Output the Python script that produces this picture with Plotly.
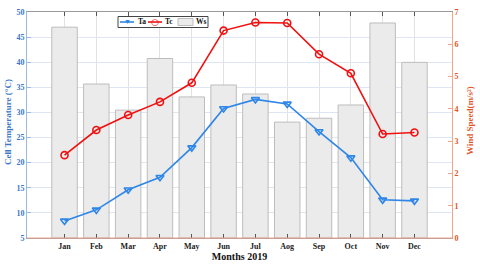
import plotly.graph_objects as go

months = ["Jan", "Feb", "Mar", "Apr", "May", "Jun", "Jul", "Aog", "Sep", "Oct", "Nov", "Dec"]
ta = [8.4, 10.6, 14.6, 17.1, 23.0, 30.8, 32.6, 31.7, 26.2, 21.0, 12.6, 12.4]
tc = [21.5, 26.5, 29.5, 32.1, 35.9, 46.3, 47.9, 47.8, 41.6, 37.8, 25.7, 26.0]
ws = [6.53, 4.77, 3.96, 5.56, 4.37, 4.74, 4.46, 3.59, 3.71, 4.12, 6.66, 5.44]

xpos = list(range(1, len(months) + 1))

FONT = "Liberation Serif"
BLUE = "#2E86E8"
RED = "#F01010"
LBLUE = "#3C78C8"
ORANGE = "#E0562A"

fig = go.Figure()

fig.add_trace(go.Bar(
    x=xpos, y=ws, name="Ws", yaxis="y", width=0.8, showlegend=False,
    marker=dict(color="#EBEBEB", line=dict(color="#BDBDBD", width=1)),
))
fig.add_trace(go.Scatter(
    x=xpos, y=ta, name="Ta", yaxis="y2", mode="lines+markers", showlegend=False,
    line=dict(color=BLUE, width=1.6),
    marker=dict(symbol="triangle-down-open", size=7, color=BLUE, line=dict(width=1.6, color=BLUE)),
))
fig.add_trace(go.Scatter(
    x=xpos, y=tc, name="Tc", yaxis="y2", mode="lines+markers", showlegend=False,
    line=dict(color=RED, width=1.6),
    marker=dict(symbol="circle-open", size=7, color=RED, line=dict(width=1.6, color=RED)),
))

# compact legend (box, samples, labels) in paper coordinates
def px_x(p):
    return (p - 27) / 425.0

def px_y(p):
    return (238 - p) / 226.0

shapes = [
    dict(type="line", xref="paper", yref="paper", x0=0, x1=1, y0=0, y1=0,
         line=dict(color="#F3A58A", width=1), layer="above"),
    dict(type="rect", xref="paper", yref="paper", x0=px_x(118), x1=px_x(208), y0=px_y(27.5), y1=px_y(16.5),
         line=dict(color="#444", width=1), fillcolor="white", layer="above"),
    dict(type="line", xref="paper", yref="paper", x0=px_x(120), x1=px_x(134), y0=px_y(22), y1=px_y(22),
         line=dict(color=BLUE, width=1.6), layer="above"),
    dict(type="line", xref="paper", yref="paper", x0=px_x(148), x1=px_x(162), y0=px_y(22), y1=px_y(22),
         line=dict(color=RED, width=1.6), layer="above"),
    dict(type="rect", xref="paper", yref="paper", x0=px_x(178), x1=px_x(193), y0=px_y(25.5), y1=px_y(18.5),
         line=dict(color="#BDBDBD", width=1), fillcolor="#EBEBEB", layer="above"),
]
annotations = [
    dict(xref="paper", yref="paper", x=px_x(127), y=px_y(22), text="▼", showarrow=False,
         font=dict(size=7, color=BLUE), xanchor="center", yanchor="middle"),
    dict(xref="paper", yref="paper", x=px_x(155), y=px_y(22), text="○", showarrow=False,
         font=dict(size=9, color=RED, family="DejaVu Sans"), xanchor="center", yanchor="middle"),
    dict(xref="paper", yref="paper", x=px_x(135.5), y=px_y(22), text="<b>Ta</b>", showarrow=False,
         font=dict(size=7.5, color="#111", family=FONT), xanchor="left", yanchor="middle"),
    dict(xref="paper", yref="paper", x=px_x(163), y=px_y(22), text="<b>Tc</b>", showarrow=False,
         font=dict(size=7.5, color="#111", family=FONT), xanchor="left", yanchor="middle"),
    dict(xref="paper", yref="paper", x=px_x(194), y=px_y(22), text="<b>Ws</b>", showarrow=False,
         font=dict(size=7.5, color="#111", family=FONT), xanchor="left", yanchor="middle"),
    dict(xref="paper", yref="paper", x=px_x(8), y=px_y(122), text="<b>Cell Temperature (°C)</b>",
         showarrow=False, textangle=-90, font=dict(size=9, color=LBLUE, family=FONT),
         xanchor="center", yanchor="middle"),
    dict(xref="paper", yref="paper", x=px_x(470), y=px_y(120), text="<b>Wind Speed(m/s²)</b>",
         showarrow=False, textangle=-90, font=dict(size=9, color=ORANGE, family=FONT),
         xanchor="center", yanchor="middle"),
]

fig.update_layout(
    width=480, height=274,
    margin=dict(l=27, r=28, t=12, b=36),
    paper_bgcolor="white", plot_bgcolor="white",
    font=dict(family=FONT, size=8, color="#222"),
    showlegend=False,
    bargap=0.2,
    xaxis=dict(
        range=[-0.18, 13.18], tickmode="array", tickvals=xpos, ticktext=months,
        automargin=False,
        showgrid=True, gridcolor="#E2E2E2", gridwidth=1,
        showline=True, linecolor="#9A9A9A", linewidth=1, mirror="ticks",
        ticks="inside", ticklen=4, tickcolor="#555",
        tickfont=dict(family=FONT, size=8, color="#222", weight="bold"),
        title=dict(text="<b>Months 2019</b>", font=dict(family=FONT, size=10, color="#111"), standoff=2),
        zeroline=False,
    ),
    yaxis=dict(
        side="right", range=[0, 7], dtick=1, automargin=False,
        showgrid=False, zeroline=False,
        showline=True, linecolor="#F3A58A", linewidth=1,
        ticks="inside", ticklen=4, tickcolor="#F3A58A",
        tickfont=dict(family=FONT, size=8, color=ORANGE, weight="bold"),
    ),
    yaxis2=dict(
        side="left", overlaying="y", range=[5, 50], dtick=5, automargin=False,
        showgrid=True, gridcolor="#DDE6F2", gridwidth=1, zeroline=False,
        showline=True, linecolor="#9DB9E0", linewidth=1,
        ticks="inside", ticklen=4, tickcolor="#9DB9E0",
        tickfont=dict(family=FONT, size=8, color=LBLUE, weight="bold"),
    ),
    shapes=shapes,
    annotations=annotations,
)

fig.write_html("out.html", config={"displayModeBar": False},
               post_script="document.body.style.margin='0';document.body.style.padding='0';")
